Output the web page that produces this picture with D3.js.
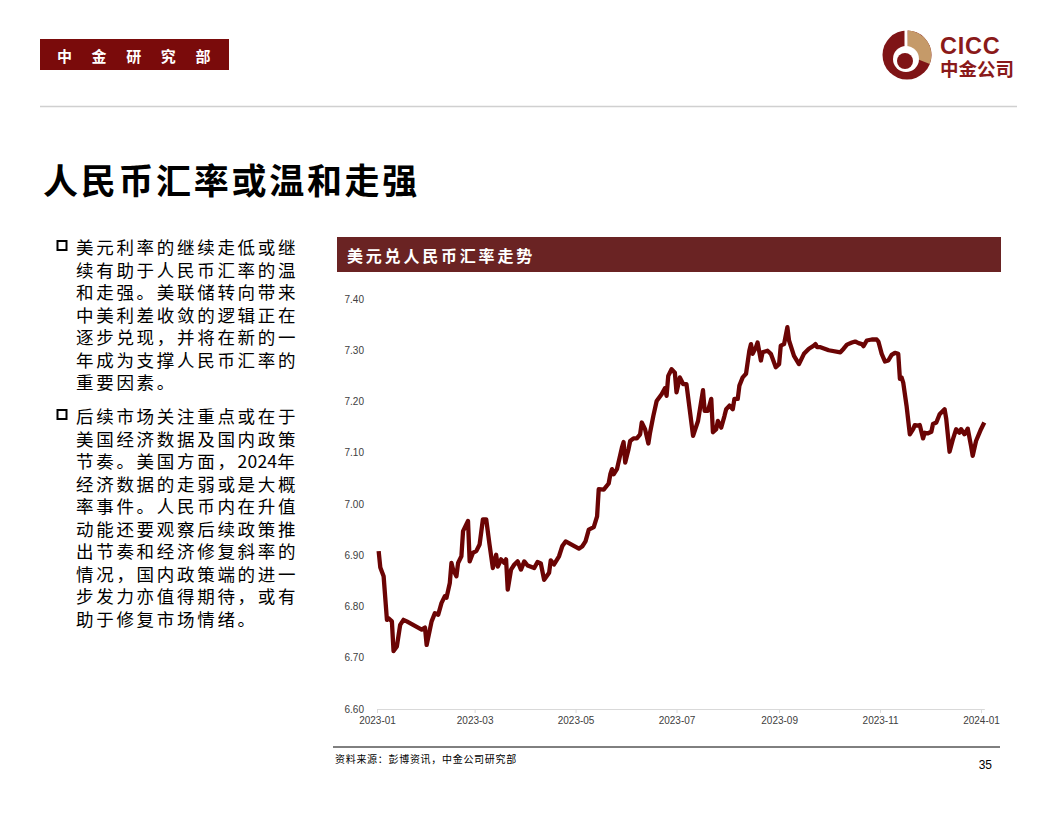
<!DOCTYPE html>
<html><head><meta charset="utf-8">
<script src="https://cdn.jsdelivr.net/npm/d3@7"></script>
<style>body{margin:0;background:#fff;}svg{display:block;}</style>
</head><body>
<svg id="c" width="1056" height="816"></svg>
<script>
const dates = ["2023-01-02","2023-01-03","2023-01-05","2023-01-07","2023-01-08","2023-01-10","2023-01-11","2023-01-13","2023-01-15","2023-01-17","2023-01-19","2023-01-28","2023-01-30","2023-01-31",
"2023-02-03","2023-02-05","2023-02-07","2023-02-09","2023-02-11","2023-02-12","2023-02-14","2023-02-15","2023-02-16","2023-02-18","2023-02-19","2023-02-21","2023-02-22","2023-02-25","2023-02-26","2023-02-28",
"2023-03-02","2023-03-04","2023-03-06","2023-03-08","2023-03-10","2023-03-12","2023-03-14","2023-03-15","2023-03-17","2023-03-19","2023-03-20","2023-03-21","2023-03-23","2023-03-25","2023-03-27","2023-03-29","2023-03-31",
"2023-04-02","2023-04-06","2023-04-08","2023-04-10","2023-04-12","2023-04-15","2023-04-16","2023-04-18","2023-04-21","2023-04-23","2023-04-25",
"2023-05-03","2023-05-05","2023-05-07","2023-05-09","2023-05-12","2023-05-14","2023-05-15","2023-05-18","2023-05-21","2023-05-22","2023-05-23","2023-05-24","2023-05-26","2023-05-29","2023-05-30","2023-05-31",
"2023-06-02","2023-06-03","2023-06-05","2023-06-07","2023-06-09","2023-06-10","2023-06-12","2023-06-14","2023-06-15","2023-06-17","2023-06-19","2023-06-22","2023-06-24","2023-06-25","2023-06-26","2023-06-28","2023-06-30",
"2023-07-01","2023-07-03","2023-07-05","2023-07-07","2023-07-11","2023-07-14","2023-07-17","2023-07-18","2023-07-20","2023-07-22","2023-07-23","2023-07-25","2023-07-26","2023-07-28","2023-07-30","2023-07-31",
"2023-08-02","2023-08-04","2023-08-05","2023-08-07","2023-08-08","2023-08-10","2023-08-12","2023-08-14","2023-08-15","2023-08-16","2023-08-18","2023-08-19","2023-08-21","2023-08-22","2023-08-25","2023-08-27","2023-08-30",
"2023-09-01","2023-09-02","2023-09-04","2023-09-06","2023-09-07","2023-09-10","2023-09-13","2023-09-16","2023-09-19","2023-09-22","2023-09-23","2023-09-24","2023-09-26",
"2023-10-01","2023-10-08","2023-10-10","2023-10-12","2023-10-15","2023-10-17","2023-10-19","2023-10-21","2023-10-22","2023-10-24","2023-10-27","2023-10-30","2023-10-31",
"2023-11-02","2023-11-04","2023-11-06","2023-11-08","2023-11-10","2023-11-12","2023-11-13","2023-11-14","2023-11-15","2023-11-17","2023-11-19","2023-11-21","2023-11-22","2023-11-24","2023-11-25","2023-11-27","2023-11-28","2023-11-30",
"2023-12-02","2023-12-03","2023-12-05","2023-12-07","2023-12-10","2023-12-11","2023-12-13","2023-12-15","2023-12-17","2023-12-19","2023-12-20","2023-12-22","2023-12-24","2023-12-26","2023-12-27","2023-12-29",
"2024-01-01","2024-01-03"];
const rates = [6.908,6.876,6.859,6.774,6.777,6.771,6.713,6.722,6.764,6.774,6.771,6.755,6.759,6.725,
6.771,6.787,6.784,6.807,6.820,6.817,6.846,6.885,6.872,6.859,6.885,6.898,6.947,6.967,6.888,6.905,
6.908,6.921,6.970,6.970,6.921,6.875,6.901,6.878,6.892,6.885,6.892,6.833,6.872,6.882,6.888,6.872,6.888,
6.880,6.875,6.887,6.884,6.852,6.866,6.890,6.882,6.898,6.918,6.927,
6.913,6.917,6.927,6.950,6.955,6.976,7.029,7.028,7.040,7.058,7.068,7.058,7.068,7.110,7.121,7.081,
7.107,7.123,7.128,7.128,7.136,7.159,7.146,7.118,7.139,7.172,7.201,7.214,7.226,7.211,7.250,7.263,7.256,
7.218,7.247,7.234,7.234,7.133,7.162,7.222,7.182,7.182,7.205,7.140,7.146,7.162,7.149,7.172,7.185,
7.192,7.185,7.205,7.205,7.231,7.247,7.254,7.299,7.312,7.293,7.306,7.315,7.280,7.296,7.299,7.293,7.267,
7.273,7.309,7.312,7.345,7.319,7.289,7.273,7.293,7.303,7.309,7.312,7.306,7.306,
7.300,7.296,7.303,7.311,7.315,7.317,7.314,7.312,7.308,7.319,7.321,7.321,7.317,
7.293,7.278,7.280,7.291,7.295,7.293,7.244,7.247,7.237,7.192,7.136,7.146,7.154,7.153,7.154,7.128,7.139,7.138,
7.141,7.156,7.159,7.175,7.185,7.166,7.102,7.126,7.146,7.139,7.146,7.136,7.147,7.113,7.094,7.123,
7.146,7.159];
const yTicks = [6.60,6.70,6.80,6.90,7.00,7.10,7.20,7.30,7.40];
const xTickLabels = ["2023-01","2023-03","2023-05","2023-07","2023-09","2023-11","2024-01"];
const para1 = ["美元利率的继续走低或继","续有助于人民币汇率的温","和走强。美联储转向带来","中美利差收敛的逻辑正在","逐步兑现，并将在新的一","年成为支撑人民币汇率的","重要因素。"];
const para2 = ["后续市场关注重点或在于","美国经济数据及国内政策","节奏。美国方面，2024年","经济数据的走弱或是大概","率事件。人民币内在升值","动能还要观察后续政策推","出节奏和经济修复斜率的","情况，国内政策端的进一","步发力亦值得期待，或有","助于修复市场情绪。"];
const titleText = "人民币汇率或温和走强";
const chartTitle = "美元兑人民币汇率走势";
const sourceText = "资料来源：彭博资讯，中金公司研究部";
const pageNum = "35";

const svg = d3.select("#c");
const CJK = "'Noto Sans CJK SC','Noto Sans',sans-serif";
const LAT = "'Liberation Sans',Arial,sans-serif";

// Header box
svg.append("rect").attr("x",40).attr("y",39).attr("width",189).attr("height",31).attr("fill","#7a0b0b");
svg.append("text").attr("x",57).attr("y",55).attr("dominant-baseline","central")
  .attr("font-family",CJK).attr("font-weight","bold").attr("font-size",15).attr("letter-spacing",19.6)
  .attr("fill","#fff").text("中金研究部");

// Logo
const lc = [907,55], R = 24.5;
const lg = svg.append("g").attr("transform",`translate(${lc[0]},${lc[1]})`);
lg.append("circle").attr("r",R).attr("fill","#7f1416");
lg.append("path").attr("d", d3.arc()({innerRadius:0, outerRadius:R, startAngle:0.02, endAngle:Math.PI*0.62})).attr("fill","#c59a69");
lg.append("circle").attr("cx",-1).attr("cy",4).attr("r",13).attr("fill","#fff");
lg.append("rect").attr("x",-2.5).attr("y",-R-1).attr("width",3).attr("height",R).attr("fill","#fff");
lg.append("circle").attr("cx",-2).attr("cy",6).attr("r",8).attr("fill","#7f1416");
svg.append("text").attr("x",940).attr("y",54).attr("font-family",LAT).attr("font-weight","bold")
  .attr("font-size",23.5).attr("letter-spacing",0.8).attr("fill","#8a1a1a").text("CICC");
svg.append("text").attr("x",940).attr("y",68).attr("dominant-baseline","central").attr("font-family",CJK)
  .attr("font-weight","bold").attr("font-size",18.5).attr("fill","#8a1a1a").text("中金公司");

// separator
svg.append("line").attr("x1",40).attr("x2",1017).attr("y1",106.5).attr("y2",106.5).attr("stroke","#d0d0d0").attr("stroke-width",1.5);

// Title
svg.append("text").attr("x",43).attr("y",178).attr("dominant-baseline","central").attr("font-family",CJK)
  .attr("font-weight","bold").attr("font-size",35).attr("letter-spacing",2.7).attr("fill","#000").text(titleText);

// Bullets
function para(lines, y0){
  svg.append("rect").attr("x",57.5).attr("y",y0-5).attr("width",9).attr("height",9).attr("fill","none").attr("stroke","#000").attr("stroke-width",2);
  lines.forEach((l,i)=>{
    const t = svg.append("text").attr("x",76).attr("y",y0+i*22.5).attr("dominant-baseline","central")
      .attr("font-family",CJK).attr("font-size",17.5).attr("letter-spacing",2.7).attr("fill","#000");
    // keep digits tight, CJK spaced
    l.split(/(\d+)/).filter(s=>s.length).forEach(seg=>{
      const isNum = /^\d+$/.test(seg);
      t.append("tspan").attr("letter-spacing", isNum ? 0.2 : 2.7).text(seg);
    });
  });
}
para(para1, 246);
para(para2, 415);

// Chart header
svg.append("rect").attr("x",337).attr("y",237).attr("width",664).attr("height",35).attr("fill","#6a2323");
svg.append("text").attr("x",347).attr("y",255).attr("dominant-baseline","central").attr("font-family",CJK)
  .attr("font-weight","bold").attr("font-size",16).attr("letter-spacing",2.8).attr("fill","#fff").text(chartTitle);

// Scales
const parse = d3.timeParse("%Y-%m-%d");
const data = dates.map((d,i)=>({date:parse(d), v:rates[i]}));
const x = d3.scaleTime().domain([parse("2023-01-01"), parse("2024-01-03")]).range([377, 984.3]);
const y = d3.scaleLinear().domain([6.6, 7.4]).range([709, 299]);

// Y labels
const ya = svg.append("g").attr("transform","translate(364,0)")
  .call(d3.axisLeft(y).tickValues(yTicks).tickFormat(d3.format(".2f")).tickSize(0).tickPadding(0));
ya.select(".domain").remove();
ya.selectAll("text").attr("font-family",LAT).attr("font-size",10).attr("fill","#404040");

// X axis
const xt = xTickLabels.map(s=>parse(s+"-01"));
const xa = svg.append("g").attr("transform","translate(0,709)")
  .call(d3.axisBottom(x).tickValues(xt).tickFormat(d3.timeFormat("%Y-%m")).tickSizeInner(4).tickSizeOuter(0).tickPadding(4));
xa.select(".domain").attr("stroke","#d9d9d9");
xa.selectAll(".tick line").attr("stroke","#d9d9d9");
xa.selectAll("text").attr("font-family",LAT).attr("font-size",10).attr("fill","#404040");

// Line
svg.append("path").datum(data).attr("fill","none").attr("stroke","#6b0404").attr("stroke-width",4.3)
  .attr("stroke-linejoin","round").attr("d", d3.line().x(d=>x(d.date)).y(d=>y(d.v)));

// Footer
svg.append("line").attr("x1",333).attr("x2",1000).attr("y1",747).attr("y2",747).attr("stroke","#000").attr("stroke-width",1);
svg.append("text").attr("x",335).attr("y",758).attr("dominant-baseline","central").attr("font-family",CJK)
  .attr("font-size",10).attr("letter-spacing",0.7).attr("fill","#000").text(sourceText);
svg.append("text").attr("x",992).attr("y",769).attr("text-anchor","end").attr("font-family",LAT)
  .attr("font-size",12).attr("fill","#000").text(pageNum);
</script>
</body></html>
